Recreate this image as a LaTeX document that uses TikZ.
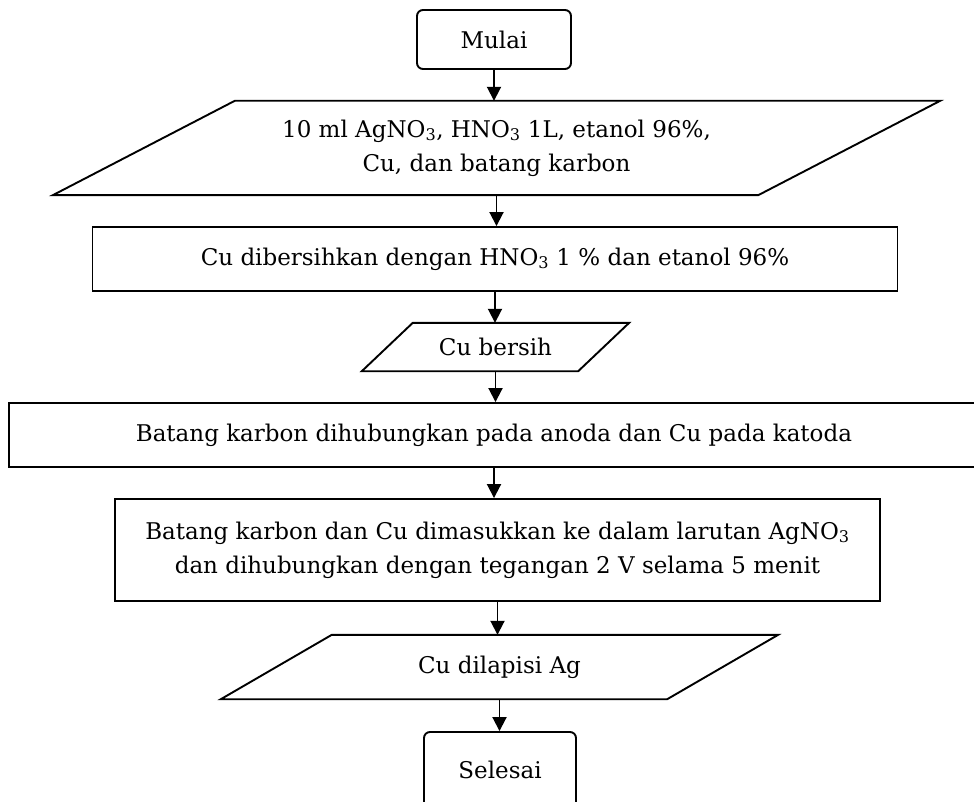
\documentclass[tikz,border=0pt]{standalone}
\usepackage{fontspec}
\setmainfont{DejaVu Serif}
\usetikzlibrary{arrows.meta}
\begin{document}
\begin{tikzpicture}[x=1pt,y=-1pt,
  txt/.style={inner sep=0pt, align=center, font=\fontsize{23}{34}\selectfont},
  box/.style={txt, draw, line width=1.9pt},
  term/.style={box, rounded corners=6pt},
  io/.style={txt},
  arr/.style={line width=1.9pt, -{Triangle[length=14pt,width=14pt]}},
  lin/.style={line width=1.9pt, line join=miter}]
\useasboundingbox (0,0) rectangle (974,802);
\clip (0,0) rectangle (974,802);
\fill[white] (0,0) rectangle (974,802);

\node[term, minimum width=154pt, minimum height=59pt] (start) at (494,39.5) {Mulai};

\node[io, minimum width=705pt, minimum height=94pt] (in1) at (496.5,148)
  {10 ml AgNO\textsubscript{3}, HNO\textsubscript{3} 1L, etanol 96\%,\\ Cu, dan batang karbon};
\draw[lin] ([xshift=91pt]in1.north west) -- ([xshift=91pt]in1.north east)
  -- ([xshift=-91pt]in1.south east) -- ([xshift=-91pt]in1.south west) -- cycle;

\node[box, minimum width=805pt, minimum height=64pt] (clean) at (495,259)
  {Cu dibersihkan dengan HNO\textsubscript{3} 1 \% dan etanol 96\%};

\node[io, minimum width=216pt, minimum height=48pt] (cub) at (495.5,347) {Cu bersih};
\draw[lin] ([xshift=25.5pt]cub.north west) -- ([xshift=25.5pt]cub.north east)
  -- ([xshift=-25.5pt]cub.south east) -- ([xshift=-25.5pt]cub.south west) -- cycle;

\node[box, minimum width=970pt, minimum height=64pt] (conn) at (494,435)
  {Batang karbon dihubungkan pada anoda dan Cu pada katoda};

\node[box, minimum width=765pt, minimum height=102pt] (dip) at (497.5,550)
  {Batang karbon dan Cu dimasukkan ke dalam larutan AgNO\textsubscript{3}\\ dan dihubungkan dengan tegangan 2 V selama 5 menit};

\node[io, minimum width=446pt, minimum height=64pt] (out) at (499.5,667) {Cu dilapisi Ag};
\draw[lin] ([xshift=55.5pt]out.north west) -- ([xshift=55.5pt]out.north east)
  -- ([xshift=-55.5pt]out.south east) -- ([xshift=-55.5pt]out.south west) -- cycle;

\node[term, minimum width=152pt, minimum height=76pt] (end) at (500,770) {Selesai};

\draw[arr] (start.south) -- (start.south |- in1.north);
\draw[arr] (in1.south) -- (in1.south |- clean.north);
\draw[arr] (clean.south) -- (clean.south |- cub.north);
\draw[arr] (cub.south) -- (cub.south |- conn.north);
\draw[arr] (conn.south) -- (conn.south |- dip.north);
\draw[arr] (dip.south) -- (dip.south |- out.north);
\draw[arr] (out.south) -- (out.south |- end.north);
\end{tikzpicture}
\end{document}
